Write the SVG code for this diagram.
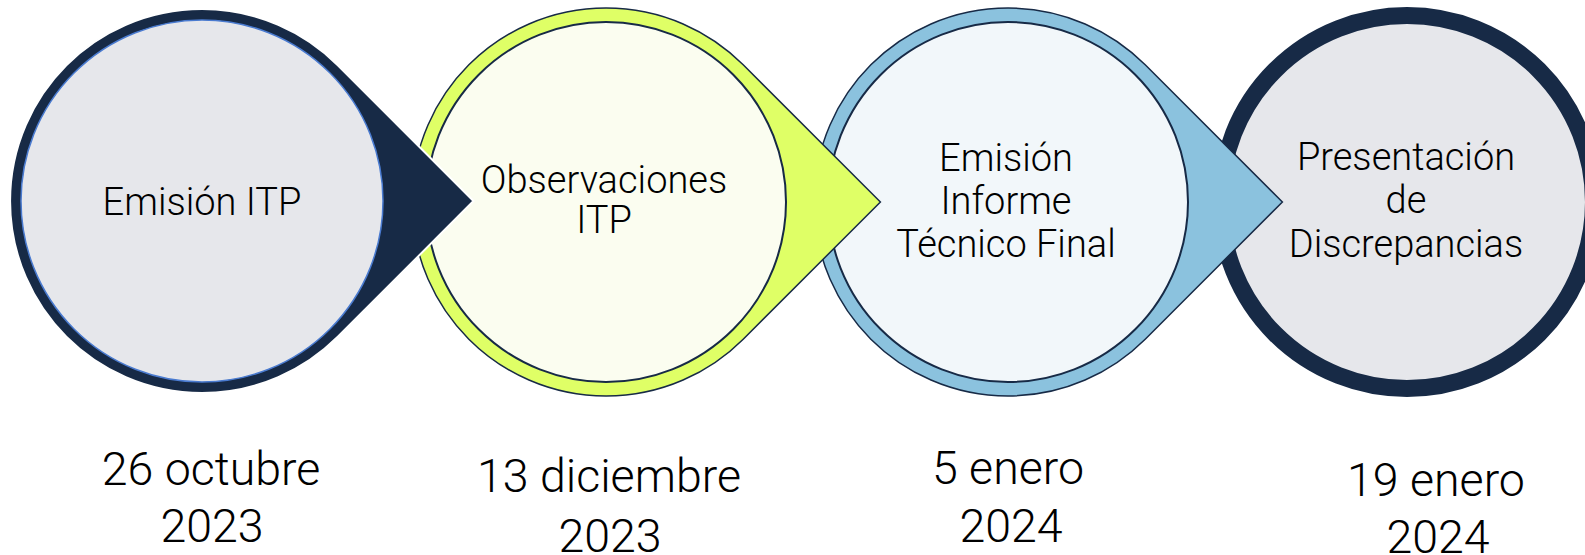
<svg xmlns="http://www.w3.org/2000/svg" width="1585" height="555" viewBox="0 0 1585 555">
<style>
.lbl{font-family:Roboto,"Liberation Sans",Arial,sans-serif;font-weight:300;font-size:38px;fill:#000;text-anchor:middle}
.date{font-family:Roboto,"Liberation Sans",Arial,sans-serif;font-weight:300;font-size:46.5px;fill:#000;text-anchor:middle}
.navy{fill:#172A46}
</style>
<rect width="1585" height="555" fill="#fff"/>
<g id="connectors"/>
<g id="node4">
<circle cx="1407" cy="202" r="186.5" fill="#E6E7EB" stroke="#172A46" stroke-width="17"/>
<text class="lbl" x="1406" y="170">Presentación</text>
<text class="lbl" x="1406" y="213">de</text>
<text class="lbl" x="1406" y="257">Discrepancias</text>
<text class="date" x="1436" y="496">19 enero</text>
<text class="date" x="1438" y="553">2024</text>
</g>
<g id="node3">
<path d="M1282.4,202 L1145.2,64.8 A194,194 0 1 0 1145.2,339.2 Z" fill="#8BC2DE" stroke="#172A46" stroke-width="1.5"/>
<circle cx="1008" cy="202" r="180" fill="#F2F7FA" stroke="#172A46" stroke-width="2"/>
<text class="lbl" x="1006" y="171">Emisión</text>
<text class="lbl" x="1006" y="214">Informe</text>
<text class="lbl" x="1006" y="257">Técnico Final</text>
<text class="date" x="1008" y="484">5 enero</text>
<text class="date" x="1011" y="542">2024</text>
</g>
<g id="node2">
<path d="M880.4,202 L743.2,64.8 A194,194 0 1 0 743.2,339.2 Z" fill="#DFFF66" stroke="#172A46" stroke-width="1.5"/>
<circle cx="606" cy="202" r="180" fill="#FBFDF0" stroke="#172A46" stroke-width="2"/>
<text class="lbl" x="604" y="193">Observaciones</text>
<text class="lbl" x="604" y="233">ITP</text>
<text class="date" x="609" y="492">13 diciembre</text>
<text class="date" x="610" y="552">2023</text>
</g>
<g id="node1">
<path d="M473.5,201 L337.8,65.2 A192,192 0 1 0 337.8,336.8 Z" class="navy" stroke="#fff" stroke-width="2"/>
<circle cx="202" cy="201" r="181" fill="#E6E7EB" stroke="#4A7BD0" stroke-width="1.5"/>
<text class="lbl" x="202" y="215">Emisión ITP</text>
<text class="date" x="211" y="485">26 octubre</text>
<text class="date" x="212" y="542">2023</text>
</g>
</svg>
